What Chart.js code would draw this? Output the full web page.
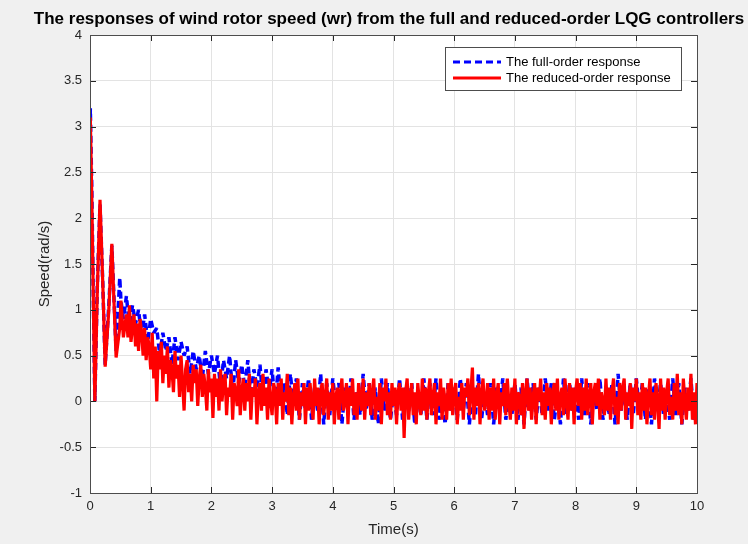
<!DOCTYPE html>
<html>
  <body style="margin:0; background:#f0f0f0;">
    <div style="width:748px; height:544px;">
      <canvas id="speed"></canvas>
    </div>

    <script src="https://cdn.jsdelivr.net/npm/chart.js"></script>
    <script>
      // start-up transient at irregular times
      const startTimes = [0, 0.005, 0.03, 0.08, 0.12, 0.165, 0.21, 0.25, 0.31, 0.36, 0.40, 0.43, 0.49, 0.51, 0.55];
      const startFull = [2.9, 3.2, 2.3, 0.0, 1.25, 2.15, 1.3, 0.4, 1.05, 1.7, 1.05, 0.55, 1.35, 1.1, 0.9];
      const startReduced = [2.75, 3.1, 2.2, 0.0, 1.2, 2.2, 1.3, 0.38, 1.0, 1.72, 1.0, 0.48, 0.8, 1.1, 0.7];

      // after 0.6 s: full-order every 0.05 s, reduced-order every 0.025 s
      const noiseStart = 0.6;
      const fullStep = 0.05;
      const reducedStep = 0.025;
      const fullOrder = [
        1.15, 0.8, 1.05, 0.85, 1.0, 0.7, 0.95, 0.65, 0.9, 0.75,
        0.8, 0.5, 0.75, 0.55, 0.7, 0.4, 0.7, 0.45, 0.65, 0.5,
        0.6, 0.3, 0.55, 0.35, 0.5, 0.25, 0.55, 0.3, 0.5, 0.3,
        0.5, 0.15, 0.45, 0.25, 0.5, 0.1, 0.45, 0.2, 0.4, 0.15,
        0.45, 0.05, 0.35, 0.15, 0.4, 0.0, 0.35, 0.1, 0.35, -0.05,
        0.37, -0.05, 0.2, -0.15, 0.3, 0.0, 0.25, -0.2, 0.2, -0.1,
        0.25, -0.2, 0.15, -0.1, 0.3, -0.25, 0.2, -0.15, 0.25, -0.05,
        0.2, -0.25, 0.15, -0.1, 0.25, -0.2, 0.1, -0.15, 0.3, -0.1,
        0.2, -0.2, 0.15, -0.25, 0.25, -0.1, 0.2, -0.2, 0.1, -0.15,
        0.25, -0.2, 0.15, -0.1, 0.2, -0.25, 0.1, -0.15, 0.25, -0.2,
        0.2, -0.15, 0.25, -0.2, 0.1, -0.25, 0.2, -0.1, 0.15, -0.2,
        0.25, -0.1, 0.2, -0.25, 0.15, -0.15, 0.3, -0.2, 0.1, -0.15,
        0.2, -0.25, 0.15, -0.1, 0.25, -0.2, 0.1, -0.15, 0.2, -0.2,
        0.15, -0.25, 0.25, -0.1, 0.2, -0.2, 0.15, -0.15, 0.25, -0.1,
        0.2, -0.2, 0.1, -0.25, 0.25, -0.15, 0.2, -0.1, 0.15, -0.2,
        0.25, -0.15, 0.2, -0.25, 0.1, -0.1, 0.25, -0.2, 0.15, -0.15,
        0.2, -0.25, 0.3, -0.1, 0.15, -0.2, 0.2, -0.15, 0.25, -0.1,
        0.2, -0.2, 0.15, -0.25, 0.25, -0.1, 0.2, -0.15, 0.1, -0.2,
        0.25, -0.15, 0.2, -0.25, 0.15, -0.1, 0.25, -0.2, 0.1
      ];
      const reducedOrder = [
        0.95, 0.7, 1.05, 0.65, 0.8, 0.95, 0.6, 0.85, 0.55, 0.9, 0.75, 0.5, 0.8, 0.45, 0.7, 0.6, 0.35, 0.75, 0.25, 0.6,
        0.0, 0.55, 0.35, 0.65, 0.2, 0.5, 0.3, 0.6, 0.15, 0.45, 0.35, 0.1, 0.55, 0.25, 0.4, 0.05, 0.5, 0.2, -0.1, 0.35,
        0.45, 0.1, 0.3, 0.0, 0.4, 0.2, 0.35, -0.05, 0.25, 0.4, 0.05, 0.3, 0.15, -0.1, 0.35, 0.1, 0.25, -0.18, 0.3, 0.05,
        0.25, -0.1, 0.35, 0.0, 0.2, 0.3, -0.15, 0.15, 0.05, 0.3, -0.2, 0.2, 0.1, -0.05, 0.35, -0.15, 0.1, 0.25, -0.1, 0.2,
        0.0, 0.3, -0.2, 0.15, 0.05, 0.25, -0.25, 0.1, 0.2, -0.1, 0.3, -0.05, 0.15, -0.2, 0.25, 0.0, -0.15, 0.2, 0.1, -0.25,
        0.2, -0.05, 0.25, -0.2, 0.1, 0.0, 0.3, -0.15, 0.15, -0.25, 0.05, 0.2, -0.1, 0.25, -0.2, 0.1, -0.05, 0.2, -0.25, 0.15,
        -0.1, 0.2, 0.0, -0.2, 0.25, -0.05, 0.15, -0.25, 0.1, 0.2, -0.15, 0.05, 0.25, -0.2, 0.1, -0.1, 0.2, -0.25, 0.05, 0.15,
        -0.2, 0.1, 0.25, -0.1, 0.0, 0.2, -0.25, 0.15, -0.05, 0.25, -0.15, 0.1, -0.2, 0.2, 0.05, -0.1, 0.25, -0.2, 0.1, -0.05,
        0.2, -0.15, 0.1, 0.25, -0.2, 0.05, -0.1, 0.2, -0.25, 0.15, 0.0, 0.25, -0.15, 0.1, -0.2, 0.2, -0.05, 0.15, -0.25, 0.1,
        0.2, -0.1, 0.15, -0.4, 0.1, 0.25, -0.2, 0.05, 0.2, -0.15, 0.1, -0.25, 0.2, 0.0, -0.15, 0.25, -0.1, 0.15, -0.2, 0.1,
        0.25, -0.15, 0.05, 0.2, -0.25, 0.1, -0.05, 0.25, -0.2, 0.15, 0.0, -0.2, 0.2, -0.1, 0.25, -0.15, 0.1, 0.2, -0.25, 0.05,
        -0.1, 0.2, -0.2, 0.15, 0.05, 0.25, -0.15, 0.1, 0.37, -0.2, 0.15, -0.05, 0.2, -0.25, 0.1, 0.25, -0.1, 0.0, 0.2, -0.2,
        0.15, -0.1, 0.25, -0.2, 0.05, 0.2, -0.25, 0.1, -0.05, 0.2, -0.15, 0.25, 0.0, -0.2, 0.15, -0.1, 0.25, -0.25, 0.1, 0.05,
        -0.15, 0.2, -0.3, 0.1, 0.25, -0.1, 0.15, -0.2, 0.05, 0.2, -0.25, 0.15, 0.0, 0.25, -0.15, 0.1, -0.2, 0.2, -0.05, 0.15,
        -0.25, 0.1, 0.2, -0.1, 0.25, -0.2, 0.05, 0.15, -0.15, 0.25, 0.0, -0.2, 0.2, -0.1, 0.15, -0.25, 0.1, 0.25, -0.05, 0.2,
        -0.2, 0.15, -0.1, 0.25, -0.15, 0.05, 0.2, -0.25, 0.1, 0.2, -0.05, 0.25, -0.2, 0.1, 0.0, -0.15, 0.25, -0.1, 0.15, -0.2,
        0.1, 0.25, -0.15, 0.05, -0.25, 0.2, -0.1, 0.15, 0.25, -0.2, 0.1, -0.05, 0.2, -0.3, 0.15, 0.0, 0.25, -0.15, 0.1, -0.2,
        0.2, -0.1, 0.15, -0.25, 0.05, 0.25, -0.15, 0.1, -0.2, 0.2, 0.0, -0.3, 0.25, -0.1, 0.15, -0.2, 0.1, 0.25, -0.15, 0.05,
        -0.2, 0.2, -0.1, 0.3, -0.15, 0.1, -0.25, 0.25, 0.0, -0.2, 0.15, -0.1, 0.3, -0.2, 0.1, -0.25, 0.2
      ];

      const xTicks = [0, 1, 2, 3, 4, 5, 6, 7, 8, 9, 10];
      const yTicks = [-1, -0.5, 0, 0.5, 1, 1.5, 2, 2.5, 3, 3.5, 4];

      const titleText = 'The responses of wind rotor speed (wr) from the full and reduced-order LQG controllers';
      const legendLabels = ['The full-order response', 'The reduced-order response'];

      function toPoints(times, values, steps, step) {
        const pts = times.map((t, i) => ({ x: t, y: values[i] }));
        steps.forEach((v, i) => pts.push({ x: +(noiseStart + i * step).toFixed(3), y: v }));
        return pts;
      }

      const FONT = '"Liberation Sans", Arial, sans-serif';

      // MATLAB style: white axes, inward ticks on all sides, title and boxed legend
      const matlabLook = {
        id: 'matlabLook',
        beforeDraw(chart) {
          const { ctx, chartArea: a } = chart;
          ctx.save();
          ctx.fillStyle = '#ffffff';
          ctx.fillRect(a.left, a.top, a.right - a.left, a.bottom - a.top);
          ctx.restore();
        },
        afterDraw(chart) {
          const { ctx, chartArea: a, scales } = chart;
          ctx.save();
          ctx.strokeStyle = '#262626';
          ctx.lineWidth = 1;
          xTicks.forEach(v => {
            const px = Math.round(scales.x.getPixelForValue(v)) + 0.5;
            ctx.beginPath();
            ctx.moveTo(px, a.bottom); ctx.lineTo(px, a.bottom - 6);
            ctx.moveTo(px, a.top); ctx.lineTo(px, a.top + 6);
            ctx.stroke();
          });
          yTicks.forEach(v => {
            const py = Math.round(scales.y.getPixelForValue(v)) + 0.5;
            ctx.beginPath();
            ctx.moveTo(a.left, py); ctx.lineTo(a.left + 6, py);
            ctx.moveTo(a.right, py); ctx.lineTo(a.right - 6, py);
            ctx.stroke();
          });
          ctx.strokeStyle = '#4d4d4d';
          ctx.strokeRect(Math.round(a.left) + 0.5, Math.round(a.top) + 0.5,
            Math.round(a.right - a.left), Math.round(a.bottom - a.top));

          // title
          ctx.fillStyle = '#000000';
          ctx.font = 'bold 17px ' + FONT;
          ctx.textAlign = 'center';
          ctx.textBaseline = 'middle';
          ctx.fillText(titleText, 389, 19);

          // legend box
          const bx = 445, by = 47, bw = 236, bh = 43;
          ctx.fillStyle = '#ffffff';
          ctx.fillRect(bx, by, bw, bh);
          ctx.strokeStyle = '#4d4d4d';
          ctx.strokeRect(bx + 0.5, by + 0.5, bw, bh);
          const ds = chart.data.datasets;
          [0, 1].forEach(i => {
            const y = by + 15 + i * 16;
            ctx.beginPath();
            ctx.strokeStyle = ds[i].borderColor;
            ctx.lineWidth = 3;
            ctx.setLineDash(ds[i].borderDash || []);
            ctx.moveTo(bx + 8, y); ctx.lineTo(bx + 56, y);
            ctx.stroke();
            ctx.setLineDash([]);
            ctx.fillStyle = '#000000';
            ctx.font = '13px ' + FONT;
            ctx.textAlign = 'left';
            ctx.fillText(legendLabels[i], bx + 61, y);
          });
          ctx.restore();
        }
      };

      const ctx = document.getElementById('speed').getContext('2d');
      new Chart(ctx, {
        type: 'line',
        data: {
          datasets: [
            {
              label: legendLabels[0],
              data: toPoints(startTimes, startFull, fullOrder, fullStep),
              borderColor: '#0000ff',
              borderWidth: 3.5,
              borderDash: [7, 4],
              borderJoinStyle: 'bevel',
              pointRadius: 0,
              tension: 0,
              order: 2
            },
            {
              label: legendLabels[1],
              data: toPoints(startTimes, startReduced, reducedOrder, reducedStep),
              borderColor: '#ff0000',
              borderWidth: 3.2,
              borderJoinStyle: 'bevel',
              pointRadius: 0,
              tension: 0,
              order: 1
            }
          ]
        },
        options: {
          responsive: true,
          maintainAspectRatio: false,
          animation: false,
          layout: { padding: { left: 0, right: 51, top: 35, bottom: 0 } },
          plugins: { legend: { display: false }, tooltip: { enabled: false } },
          scales: {
            x: {
              type: 'linear',
              min: 0, max: 10,
              afterFit: s => { s.height = 51; },
              afterBuildTicks: s => { s.ticks = xTicks.map(v => ({ value: v })); },
              ticks: { color: '#262626', font: { family: FONT, size: 13 }, padding: 6, maxRotation: 0, callback: v => String(v) },
              grid: { color: '#e3e3e3', drawTicks: false, tickLength: 0 },
              border: { display: false },
              title: { display: true, text: 'Time(s)', color: '#262626', font: { family: FONT, size: 15 }, padding: { top: 0, bottom: 5 } }
            },
            y: {
              type: 'linear',
              min: -1, max: 4,
              afterFit: s => { s.width = 90; },
              afterBuildTicks: s => { s.ticks = yTicks.map(v => ({ value: v })); },
              ticks: { color: '#262626', font: { family: FONT, size: 13 }, padding: 8, callback: v => String(v) },
              grid: { color: '#e3e3e3', drawTicks: false, tickLength: 0 },
              border: { display: false },
              title: { display: true, text: 'Speed(rad/s)', color: '#262626', font: { family: FONT, size: 15 }, padding: { top: 36, bottom: 0 } }
            }
          }
        },
        plugins: [matlabLook]
      });
    </script>
  </body>
</html>
